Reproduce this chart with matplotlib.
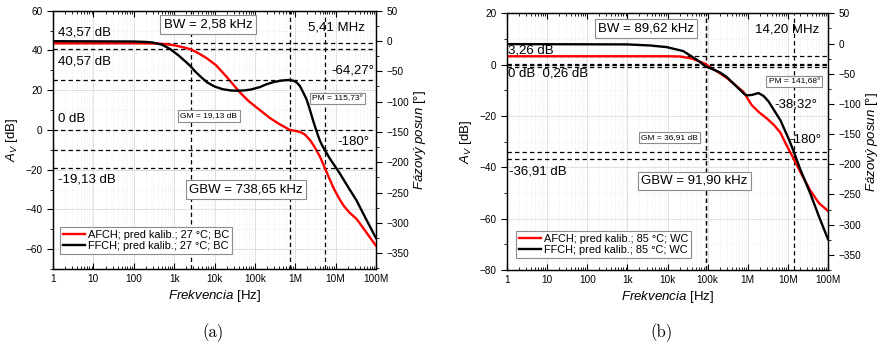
import matplotlib
matplotlib.use("Agg")
import matplotlib.pyplot as plt
import numpy as np
from matplotlib.ticker import FixedLocator, NullFormatter, MultipleLocator

plt.rcParams['font.family'] = ['Liberation Sans', 'DejaVu Sans']
plt.rcParams['mathtext.fontset'] = 'custom'
plt.rcParams['mathtext.rm'] = 'Liberation Sans'
plt.rcParams['mathtext.it'] = 'Liberation Sans:italic'

# ---- data ----
X_TICKS = [1, 10, 100, 1e3, 1e4, 1e5, 1e6, 1e7, 1e8]
X_TICK_LABELS = ["1", "10", "100", "1k", "10k", "100k", "1M", "10M", "100M"]

# panel (a): 27 °C, BC
a_mag_f = [1, 100, 300, 600, 1e3, 1.6e3, 2.58e3, 4e3, 6.5e3, 11e3, 20e3, 30e3, 42e3, 70e3,
           133e3, 235e3, 400e3, 600e3, 738.65e3, 1e6, 1.3e6, 1.7e6, 2.3e6, 3e6, 4.1e6,
           5.41e6, 7e6, 9e6, 12.6e6, 16e6, 22e6, 33e6, 50e6, 70e6, 100e6]
a_mag_db = [43.57, 43.57, 43.5, 43.2, 42.6, 41.7, 40.57, 38.6, 36.0, 32.5, 26.7, 22.5, 19.0, 14.5,
            10.0, 6.0, 3.0, 1.0, 0.0, -0.5, -1.0, -2.2, -5.0, -8.5, -13.5,
            -19.13, -24.5, -29.5, -35.0, -38.3, -41.6, -44.8, -49.8, -54.0, -58.3]
a_ph_f = [1, 100, 200, 300, 500, 790, 1.3e3, 2e3, 2.5e3, 3.3e3, 4.4e3, 6.5e3, 10e3, 16e3,
          25e3, 35e3, 55e3, 80e3, 133e3, 200e3, 300e3, 450e3, 600e3, 738.65e3, 900e3,
          1.07e6, 1.3e6, 1.5e6, 1.9e6, 2.3e6, 2.7e6, 3.3e6, 4e6, 4.7e6, 5.41e6, 7.2e6,
          10e6, 12.6e6, 20e6, 33e6, 55e6, 100e6]
a_ph_deg = [-0.3, -0.8, -1.5, -2.5, -6.0, -13.0, -24.0, -35.0, -41.0, -50.0, -58.0, -68.0, -75.0, -79.5,
            -81.5, -82.0, -81.5, -80.0, -76.0, -71.0, -67.5, -65.3, -64.5, -64.27, -65.5,
            -68.0, -74.0, -82.0, -96.0, -113.0, -129.0, -147.0, -163.0, -173.0, -180.0, -194.0,
            -208.0, -218.0, -240.0, -263.0, -292.0, -325.0]

# panel (b): 85 °C, WC
b_mag_f = [1, 10e3, 20e3, 40e3, 65e3, 89.62e3, 91.9e3, 140e3, 204e3, 300e3, 436e3, 780e3,
           1e6, 1.26e6, 1.86e6, 3e6, 4.5e6, 6.5e6, 9e6, 14.2e6, 20e6, 36e6, 60e6, 100e6]
b_mag_db = [3.26, 3.26, 3.2, 2.4, 1.1, 0.26, 0.0, -1.8, -3.4, -5.2, -7.3, -10.6,
            -13.3, -15.8, -18.4, -21.0, -23.5, -26.5, -31.0, -36.91, -41.5, -49.0, -54.0, -57.0]
b_ph_f = [1, 1e3, 3.7e3, 9.6e3, 24.7e3, 54e3, 91.9e3, 138e3, 204e3, 300e3, 540e3, 800e3,
          950e3, 1.3e6, 1.85e6, 2.5e6, 3.3e6, 6.5e6, 10.8e6, 14.2e6, 20e6, 36e6, 60e6, 100e6]
b_ph_deg = [-1.0, -1.5, -3.3, -6.0, -12.6, -27.0, -38.32, -43.0, -48.0, -55.5, -72.0, -83.0,
            -86.0, -85.0, -82.0, -87.0, -96.0, -127.0, -160.0, -180.0, -207.0, -248.0, -287.0, -324.0]

a_hlines_db = [43.57, 40.57, 0, -19.13]
a_hlines_deg = [-64.27, -180]
a_vlines = [2.58e3, 738.65e3, 5.41e6]
b_hlines_db = [3.26, 0.26, 0, -36.91]
b_hlines_deg = [-38.32, -180]
b_vlines = [89.62e3, 91.9e3, 14.2e6]

DASH = (0, (3.5, 2.5))
BOX = dict(boxstyle="square,pad=0.25", fc="white", ec="#8c8c8c", lw=0.8)


def style_panel(ax, ax2, ylim, ymaj):
    ax.set_xscale("log")
    ax.set_xlim(1, 1e8)
    ax.set_ylim(*ylim)
    ax2.set_ylim(-376, 50)
    ax.xaxis.set_major_locator(FixedLocator(X_TICKS))
    ax.set_xticklabels(X_TICK_LABELS)
    ax.xaxis.set_minor_locator(FixedLocator(
        [m * 10 ** k for k in range(8) for m in range(2, 10)]))
    ax.xaxis.set_minor_formatter(NullFormatter())
    ax.yaxis.set_major_locator(MultipleLocator(ymaj))
    ax.yaxis.set_minor_locator(MultipleLocator(ymaj / 2))
    ax2.yaxis.set_major_locator(MultipleLocator(50))
    ax2.yaxis.set_minor_locator(MultipleLocator(25))
    ax.grid(True, which="major", color="#dcdcdc", lw=0.6, ls="-")
    ax.grid(True, which="minor", color="#e6e6e6", lw=0.5, ls=":")
    ax.set_axisbelow(True)
    ax.tick_params(axis="x", which="both", direction="in", top=True, labelsize=7.2)
    ax.tick_params(axis="x", which="major", length=4)
    ax.tick_params(axis="x", which="minor", length=2)
    ax.tick_params(axis="y", which="major", direction="out", length=4, labelsize=7.2)
    ax.tick_params(axis="y", which="minor", direction="out", length=2)
    ax2.tick_params(axis="y", which="major", direction="out", length=4, labelsize=7.2)
    ax2.tick_params(axis="y", which="minor", direction="out", length=2)
    for a in (ax, ax2):
        for s in a.spines.values():
            s.set_linewidth(0.9)
    ax.set_xlabel(r"$Frekvencia$ [Hz]", fontsize=9.5, labelpad=3)
    ax.set_ylabel(r"$A_V$ [dB]", fontsize=9.5, labelpad=4)
    ax2.set_ylabel(r"$Fázový\ posun$ [°]", fontsize=9.5, labelpad=2)


def draw(ax, ax2, mf, mdb, pf, pdeg, hdb, hdeg, vl):
    for y in hdb:
        ax.axhline(y, color="black", lw=0.9, ls=DASH, zorder=2)
    for y in hdeg:
        ax2.axhline(y, color="black", lw=0.9, ls=DASH, zorder=2)
    for x in vl:
        ax.axvline(x, color="black", lw=0.9, ls=DASH, zorder=2)
    lr, = ax.plot(mf, mdb, color="#ff0000", lw=1.7, zorder=3, solid_joinstyle="round")
    lk, = ax2.plot(pf, pdeg, color="black", lw=1.7, zorder=3, solid_joinstyle="round")
    return lr, lk


def add_legend(ax2, lr, lk, labels, anchor):
    leg = ax2.legend([lr, lk], labels, loc="lower left", bbox_to_anchor=anchor,
                     borderaxespad=0, fontsize=7.9, fancybox=False, framealpha=1,
                     edgecolor="#8c8c8c", handlelength=2.0, handletextpad=0.3,
                     borderpad=0.25, labelspacing=0.15)
    leg.get_frame().set_linewidth(0.8)


fig = plt.figure(figsize=(8.81, 3.55), dpi=100)

# ---------- (a) ----------
ax = fig.add_axes([53 / 881, 1 - 269 / 355, 323 / 881, 258.3 / 355])
ax2 = ax.twinx()
style_panel(ax, ax2, (-70, 60), 20)
lr, lk = draw(ax, ax2, a_mag_f, a_mag_db, a_ph_f, a_ph_deg,
              a_hlines_db, a_hlines_deg, a_vlines)
add_legend(ax2, lr, lk, ["AFCH; pred kalib.; 27 °C; BC", "FFCH; pred kalib.; 27 °C; BC"],
           (0.022, 0.058))

ax.text(1.33, 49, "43,57 dB", fontsize=9.5, va="center")
ax.text(1.33, 34.5, "40,57 dB", fontsize=9.5, va="center")
ax.text(1.33, 5.5, "0 dB", fontsize=9.5, va="center")
ax.text(1.33, -25, "-19,13 dB", fontsize=9.5, va="center")
ax.text(6.9e3, 53, "BW = 2,58 kHz", fontsize=9.5, ha="center", va="center", bbox=BOX)
ax.text(10.7e6, 51.5, "5,41 MHz", fontsize=9.5, ha="center", va="center")
ax.text(0.994, 30, "-64,27°", fontsize=9.5, ha="right", va="center",
        transform=ax.get_yaxis_transform())
ax.text(11.3e6, 16, "PM = 115,73°", fontsize=6, ha="center", va="center", bbox=BOX)
ax.text(0.98, -6, "-180°", fontsize=9.5, ha="right", va="center",
        transform=ax.get_yaxis_transform())
ax.text(7.3e3, 7, "GM = 19,13 dB", fontsize=6, ha="center", va="center", bbox=BOX)
ax.text(60e3, -30, "GBW = 738,65 kHz", fontsize=9.5, ha="center", va="center", bbox=BOX)

# ---------- (b) ----------
bx = fig.add_axes([507 / 881, 1 - 270 / 355, 321 / 881, 256.7 / 355])
bx2 = bx.twinx()
style_panel(bx, bx2, (-80, 20), 20)
bx2.set_ylim(-375, 50)
lr, lk = draw(bx, bx2, b_mag_f, b_mag_db, b_ph_f, b_ph_deg,
              b_hlines_db, b_hlines_deg, b_vlines)
add_legend(bx2, lr, lk, ["AFCH; pred kalib.; 85 °C; WC", "FFCH; pred kalib.; 85 °C; WC"],
           (0.028, 0.047))

bx.text(1.05, 5.6, "3,26 dB", fontsize=9.5, va="center")
bx.text(1.05, -3.6, "0 dB  0,26 dB", fontsize=9.5, va="center")
bx.text(2.9e3, 14.1, "BW = 89,62 kHz", fontsize=9.5, ha="center", va="center", bbox=BOX)
bx.text(9.6e6, 13.7, "14,20 MHz", fontsize=9.5, ha="center", va="center")
bx.text(14.4e6, -6.5, "PM = 141,68°", fontsize=6, ha="center", va="center", bbox=BOX)
bx.text(0.966, -15.4, "-38,32°", fontsize=9.5, ha="right", va="center",
        transform=bx.get_yaxis_transform())
bx.text(0.978, -29.4, "-180°", fontsize=9.5, ha="right", va="center",
        transform=bx.get_yaxis_transform())
bx.text(11.5e3, -28.3, "GM = 36,91 dB", fontsize=6, ha="center", va="center", bbox=BOX)
bx.text(1.1, -41.8, "-36,91 dB", fontsize=9.5, va="center")
bx.text(46e3, -45.3, "GBW = 91,90 kHz", fontsize=9.5, ha="center", va="center", bbox=BOX)

fig.text(213 / 881, 1 - 333 / 355, "(a)", family="cmr10", fontsize=12, ha="center", va="center")
fig.text(662 / 881, 1 - 333 / 355, "(b)", family="cmr10", fontsize=12, ha="center", va="center")

fig.savefig("out.png", dpi=100)
